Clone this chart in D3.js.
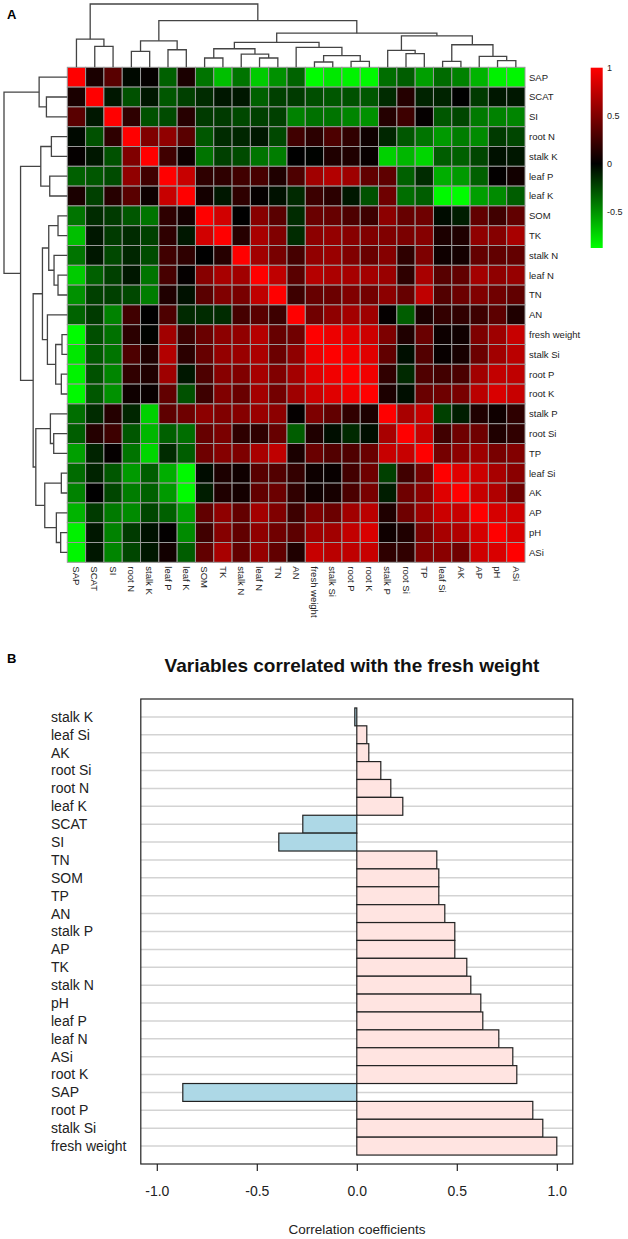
<!DOCTYPE html>
<html><head><meta charset="utf-8">
<script src="https://cdn.jsdelivr.net/npm/d3@7"></script>
<style>body{margin:0;background:#fff} text{font-family:"Liberation Sans",Arial,sans-serif}</style>
</head><body>
<svg id="c" width="628" height="1239"></svg>
<script>
// ---------- DATA ----------
const variables = ["SAP","SCAT","SI","root N","stalk K","leaf P","leaf K","SOM","TK","stalk N","leaf N","TN","AN","fresh weight","stalk Si","root P","root K","stalk P","root Si","TP","leaf Si","AK","AP","pH","ASi"];
// upper triangle of the correlation matrix, row i holds columns i+1..24
const upperTri = [
 [0.10,0.35,-0.03,0.02,-0.33,0.10,-0.40,-0.66,-0.40,-0.70,-0.50,-0.34,-0.87,-0.80,-0.84,-0.86,-0.38,-0.32,-0.55,-0.37,-0.45,-0.62,-0.83,-0.85],
 [-0.08,-0.28,-0.08,-0.30,-0.22,-0.15,-0.08,-0.08,-0.33,-0.22,-0.20,-0.27,-0.30,-0.28,-0.30,-0.15,0.14,-0.12,-0.12,0.00,-0.20,-0.08,-0.08],
 [0.18,-0.28,-0.26,0.15,-0.20,-0.20,-0.25,-0.22,-0.22,-0.45,-0.39,-0.40,-0.46,-0.50,0.14,0.24,0.02,-0.30,-0.24,-0.42,-0.45,-0.46],
 [0.50,0.57,0.35,-0.30,-0.15,-0.13,-0.08,-0.25,0.25,0.17,0.30,0.19,0.06,-0.13,-0.30,-0.40,-0.53,-0.43,-0.48,-0.20,-0.24],
 [0.25,0.05,-0.40,-0.22,-0.26,-0.40,-0.43,0.00,-0.01,0.12,0.12,0.03,-0.72,-0.63,-0.74,-0.32,-0.33,-0.24,-0.06,-0.08],
 [0.78,0.18,0.18,0.25,0.28,0.12,0.30,0.63,0.70,0.62,0.38,0.37,-0.33,-0.15,-0.60,-0.53,-0.33,0.01,0.07],
 [0.08,-0.08,0.18,0.02,-0.06,-0.14,0.23,0.17,-0.08,-0.28,0.43,-0.38,-0.32,-0.86,-0.87,-0.55,-0.48,-0.32],
 [0.82,0.00,0.53,0.35,-0.15,0.41,0.40,0.30,0.24,0.55,0.40,0.43,-0.04,-0.10,0.38,0.25,0.38],
 [0.15,0.66,0.50,-0.15,0.55,0.58,0.53,0.50,0.50,0.48,0.52,0.11,0.12,0.56,0.52,0.66],
 [0.63,0.47,0.27,0.57,0.60,0.50,0.41,0.52,0.18,0.49,0.06,0.08,0.39,0.38,0.39],
 [0.75,0.35,0.71,0.67,0.65,0.64,0.60,0.18,0.66,0.34,0.38,0.64,0.56,0.59],
 [0.24,0.40,0.42,0.50,0.45,0.55,0.40,0.75,0.32,0.42,0.50,0.44,0.38],
 [0.44,0.56,0.64,0.62,0.02,-0.32,0.10,0.20,0.19,0.24,0.36,0.12],
 [0.93,0.88,0.80,0.49,0.12,0.41,0.05,0.06,0.49,0.62,0.78],
 [0.95,0.88,0.38,-0.05,0.32,0.03,0.09,0.42,0.63,0.73],
 [0.94,0.19,-0.14,0.31,0.26,0.29,0.63,0.76,0.75],
 [0.11,-0.05,0.41,0.43,0.47,0.73,0.85,0.78],
 [0.66,0.78,-0.22,-0.10,0.12,0.06,0.18],
 [0.78,0.25,0.43,0.43,0.12,0.19],
 [0.46,0.55,0.62,0.47,0.51],
 [0.88,0.80,0.66,0.54],
 [0.78,0.69,0.44],
 [0.84,0.81],
 [0.85]
];
// hierarchical clustering merges: [left, right, height]; strings = leaves, numbers = earlier merge index
const merges = [
 ["leaf N","TN",0.28],["SOM","TK",0.28],["fresh weight","stalk Si",0.16],["root P","root K",0.18],
 ["leaf Si","AK",0.18],["pH","ASi",0.20],[2,3,0.35],["AP",5,0.33],["stalk N",0,0.40],
 ["root Si","TP",0.41],["root N","stalk K",0.48],["leaf P","leaf K",0.53],["stalk P",9,0.51],
 [1,8,0.56],["AN",6,0.60],["SCAT","SI",0.63],[4,7,0.68],[13,14,0.75],[10,11,0.80],
 ["SAP",15,0.85],[12,16,0.95],[17,20,1.03],[18,21,1.41],[19,22,1.91]
];
const keyTicks = [1, 0.5, 0, -0.5];
const colorStops = [-0.88, 0, 1];

const barLabels = ["stalk K","leaf Si","AK","root Si","root N","leaf K","SCAT","SI","TN","SOM","TP","AN","stalk P","AP","TK","stalk N","pH","leaf P","leaf N","ASi","root K","SAP","root P","stalk Si","fresh weight"];
const barValues = [-0.01,0.05,0.06,0.12,0.17,0.23,-0.27,-0.39,0.40,0.41,0.41,0.44,0.49,0.49,0.55,0.57,0.62,0.63,0.71,0.78,0.80,-0.87,0.88,0.93,1.00];
const barTicks = [-1,-0.5,0,0.5,1];

// ---------- DRAW ----------
const svg = d3.select("#c");
const n = variables.length;
const corr = variables.map((_, i) => variables.map((_, j) =>
  i === j ? 1 : (i < j ? upperTri[i][j - i - 1] : upperTri[j][i - j - 1])));

const hmL = 67.3, hmR = 525, hmT = 67.3, hmB = 562.3;
const x = d3.scaleBand().domain(variables).range([hmL, hmR]);
const y = d3.scaleBand().domain(variables).range([hmT, hmB]);
const color = d3.scaleLinear().domain(colorStops).range(["#00ff00","#000000","#ff0000"]).clamp(true);

const cells = [];
variables.forEach((r, i) => variables.forEach((c, j) => cells.push({r, c, v: corr[i][j]})));
svg.append("g").selectAll("rect").data(cells).join("rect")
  .attr("x", d => x(d.c)).attr("y", d => y(d.r))
  .attr("width", x.bandwidth()).attr("height", y.bandwidth())
  .attr("fill", d => color(d.v)).attr("stroke", "#999").attr("stroke-width", 1);

// row labels
svg.append("g").selectAll("text").data(variables).join("text")
  .attr("x", hmR + 4).attr("y", d => y(d) + y.bandwidth() / 2).attr("dy", "0.35em")
  .attr("font-size", 9.5).attr("fill", "#222").text(d => d);
// column labels
svg.append("g").selectAll("text").data(variables).join("text")
  .attr("transform", d => `translate(${x(d) + x.bandwidth() / 2},${hmB + 4}) rotate(90)`)
  .attr("dy", "0.35em").attr("font-size", 9.5).attr("fill", "#222").text(d => d);

// dendrograms
const hMax = d3.max(merges, m => m[2]);
const hTop = d3.scaleLinear().domain([0, hMax]).range([hmT, 4]);
const hLeft = d3.scaleLinear().domain([0, hMax]).range([hmL, 4]);
function buildTree(posFn) {
  const nodes = [];
  const res = ref => typeof ref === "number" ? nodes[ref] : {pos: posFn(ref), h: 0};
  merges.forEach(([a, b, h]) => {
    const A = res(a), B = res(b);
    nodes.push({pos: (A.pos + B.pos) / 2, h, A, B});
  });
  return nodes;
}
const topNodes = buildTree(v => x(v) + x.bandwidth() / 2);
svg.append("g").selectAll("path").data(topNodes).join("path")
  .attr("d", d => `M${d.A.pos},${hTop(d.A.h)}V${hTop(d.h)}H${d.B.pos}V${hTop(d.B.h)}`)
  .attr("fill", "none").attr("stroke", "#444").attr("stroke-width", 1.3);
const leftNodes = buildTree(v => y(v) + y.bandwidth() / 2);
svg.append("g").selectAll("path").data(leftNodes).join("path")
  .attr("d", d => `M${hLeft(d.A.h)},${d.A.pos}H${hLeft(d.h)}V${d.B.pos}H${hLeft(d.B.h)}`)
  .attr("fill", "none").attr("stroke", "#444").attr("stroke-width", 1.3);

// color key
const keyY = d3.scaleLinear().domain([colorStops[0], 1]).range([248, 67.7]);
const grad = svg.append("defs").append("linearGradient").attr("id", "kg")
  .attr("x1", 0).attr("x2", 0).attr("y1", 1).attr("y2", 0);
colorStops.forEach(s => grad.append("stop")
  .attr("offset", (s - colorStops[0]) / (1 - colorStops[0])).attr("stop-color", color(s)));
svg.append("rect").attr("x", 590.7).attr("width", 12).attr("y", keyY(1))
  .attr("height", keyY(colorStops[0]) - keyY(1)).attr("fill", "url(#kg)");
svg.append("g").selectAll("text").data(keyTicks).join("text")
  .attr("x", 607).attr("y", d => keyY(d)).attr("dy", "0.35em")
  .attr("font-size", 9).attr("fill", "#222").text(d => d);

// panel letters
svg.append("text").attr("x", 7).attr("y", 19).attr("font-size", 13).attr("font-weight", "bold").text("A");
svg.append("text").attr("x", 7).attr("y", 663).attr("font-size", 13).attr("font-weight", "bold").text("B");

// ---------- BAR CHART ----------
const bL = 140.8, bR = 572.8, bT = 699, bB = 1164;
const bx = d3.scaleLinear().domain([-1.08, 1.08]).range([bL, bR]);
const by = d3.scaleBand().domain(barLabels).range([bT, bB]).paddingInner(0).paddingOuter(0.5);
const bars = barLabels.map((l, i) => ({l, v: barValues[i]}));

svg.append("text").attr("x", 352).attr("y", 671.5).attr("text-anchor", "middle")
  .attr("font-size", 19).attr("font-weight", "bold").attr("fill", "#111")
  .text("Variables correlated with the fresh weight");

svg.append("g").selectAll("line").data(barLabels).join("line")
  .attr("x1", bL).attr("x2", bR)
  .attr("y1", d => by(d) + by.bandwidth() / 2).attr("y2", d => by(d) + by.bandwidth() / 2)
  .attr("stroke", "#d3d3d3").attr("stroke-width", 1.5);

svg.append("g").selectAll("rect").data(bars).join("rect")
  .attr("x", d => bx(Math.min(0, d.v))).attr("y", d => by(d.l))
  .attr("width", d => Math.abs(bx(d.v) - bx(0))).attr("height", by.bandwidth())
  .attr("fill", d => d.v >= 0 ? "#ffe4e1" : "#add8e6")
  .attr("stroke", "#222").attr("stroke-width", 1.2);

svg.append("rect").attr("x", bL).attr("y", bT).attr("width", bR - bL).attr("height", bB - bT)
  .attr("fill", "none").attr("stroke", "#222").attr("stroke-width", 1.2);

svg.append("g").selectAll("text").data(barLabels).join("text")
  .attr("x", 51).attr("y", d => by(d) + by.bandwidth() / 2).attr("dy", "0.35em")
  .attr("font-size", 14).attr("fill", "#222").text(d => d);

const ax = svg.append("g").attr("transform", `translate(0,${bB})`)
  .call(d3.axisBottom(bx).tickValues(barTicks).tickFormat(d => d.toFixed(1)).tickSize(7).tickPadding(15));
ax.select(".domain").remove();
ax.selectAll("line").attr("stroke", "#222").attr("stroke-width", 1.2);
ax.selectAll("text").attr("font-size", 14).attr("fill", "#222").attr("font-family", '"Liberation Sans",Arial,sans-serif');

svg.append("text").attr("x", 357).attr("y", 1233.5).attr("text-anchor", "middle")
  .attr("font-size", 13.5).attr("fill", "#222").text("Correlation coefficients");
</script>
</body></html>
